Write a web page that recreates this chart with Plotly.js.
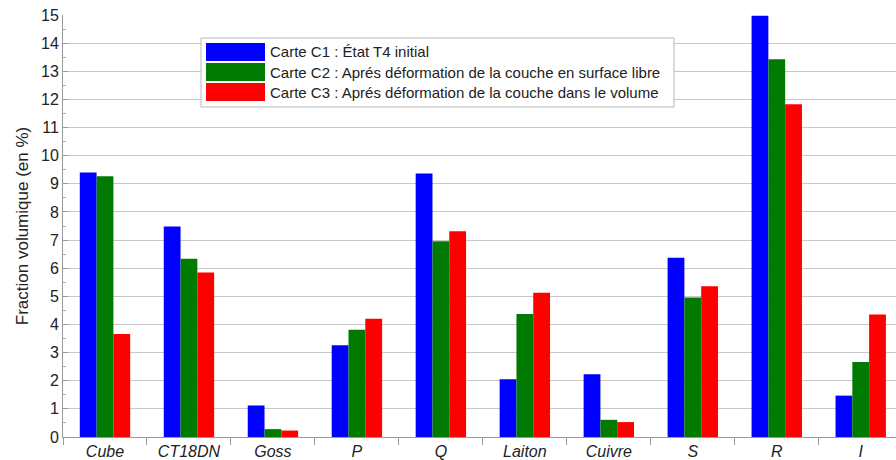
<!DOCTYPE html>
<html>
<head>
<meta charset="utf-8">
<script src="https://cdn.plot.ly/plotly-3.0.1.min.js"></script>
<style>
  html, body { margin: 0; padding: 0; background: #fff; }
  #chart { width: 896px; height: 460px; }
</style>
</head>
<body>
<div id="chart"></div>
<script>
// Texture components (volume fraction, %)
const categories = ["Cube", "CT18DN", "Goss", "P", "Q", "Laiton", "Cuivre", "S", "R", "I"];
const seriesNames = [
  "Carte C1 : État T4 initial",
  "Carte C2 : Aprés déformation de la couche en surface libre",
  "Carte C3 : Aprés déformation de la couche dans le volume"
];
const c1 = [9.4, 7.48, 1.12, 3.26, 9.37, 2.05, 2.23, 6.37, 14.97, 1.47];
const c2 = [9.27, 6.34, 0.28, 3.81, 6.96, 4.37, 0.61, 4.96, 13.43, 2.67];
const c3 = [3.66, 5.85, 0.23, 4.2, 7.31, 5.13, 0.53, 5.36, 11.83, 4.35];
const yTicks = [0, 1, 2, 3, 4, 5, 6, 7, 8, 9, 10, 11, 12, 13, 14, 15];

const colors = ["#0000ff", "#007a00", "#ff0000"];
const seriesValues = [c1, c2, c3];

const W = 896, H = 460;
const M = { l: 63, r: 0, t: 15, b: 23 };
const plotW = W - M.l - M.r, plotH = H - M.t - M.b;
// pixel -> paper fraction helpers for the legend block
const px = v => (v - M.l) / plotW;
const py = v => (H - M.b - v) / plotH;

const FONT = "Liberation Sans, Arial, sans-serif";

const traces = seriesValues.map((vals, i) => ({
  type: "bar",
  name: seriesNames[i],
  x: categories,
  y: vals,
  marker: { color: colors[i], line: { width: 0 } },
  showlegend: false,
  hoverinfo: "x+y"
}));

// Legend drawn as a framed block with wide colour swatches
const shapes = [{
  type: "rect", xref: "paper", yref: "paper",
  x0: px(201), x1: px(674), y0: py(107), y1: py(38),
  fillcolor: "#ffffff", line: { color: "#b8b8b8", width: 1 }, layer: "above"
}];
const annotations = [];
seriesNames.forEach((name, i) => {
  const top = 43 + i * 20;
  shapes.push({
    type: "rect", xref: "paper", yref: "paper",
    x0: px(206), x1: px(265), y0: py(top + 18), y1: py(top),
    fillcolor: colors[i], line: { width: 0 }, layer: "above"
  });
  annotations.push({
    xref: "paper", yref: "paper", x: px(268), y: py(top + 9),
    xanchor: "left", yanchor: "middle", showarrow: false,
    text: name, font: { family: FONT, size: 15, color: "#222" }
  });
});

const layout = {
  width: W, height: H,
  margin: M,
  paper_bgcolor: "#ffffff",
  plot_bgcolor: "#ffffff",
  font: { family: FONT, color: "#222" },
  barmode: "group",
  bargap: 0.4,
  bargroupgap: 0,
  showlegend: false,
  xaxis: {
    type: "category",
    range: [-0.5, 9.42],
    tickson: "boundaries",
    ticks: "outside",
    ticklen: 7,
    tickcolor: "#9a9a9a",
    showline: true,
    linecolor: "#9a9a9a",
    linewidth: 1,
    showgrid: false,
    tickfont: { size: 16, style: "italic", color: "#222" },
    automargin: false
  },
  yaxis: {
    range: [0, 15],
    tickvals: yTicks,
    ticktext: yTicks.map(String),
    ticks: "inside",
    ticklen: 5,
    tickcolor: "#9a9a9a",
    minor: { dtick: 0.5, ticks: "inside", ticklen: 3, tickcolor: "#b0b0b0", showgrid: false },
    showline: true,
    linecolor: "#9a9a9a",
    linewidth: 1,
    showgrid: true,
    gridcolor: "#c8c8c8",
    gridwidth: 1,
    zeroline: false,
    tickfont: { size: 16, color: "#222" },
    title: { text: "Fraction volumique (en %)", font: { size: 17, color: "#222" }, standoff: 8 },
    automargin: false
  },
  shapes: shapes,
  annotations: annotations
};

Plotly.newPlot("chart", traces, layout, { displayModeBar: false, staticPlot: true });
</script>
</body>
</html>
